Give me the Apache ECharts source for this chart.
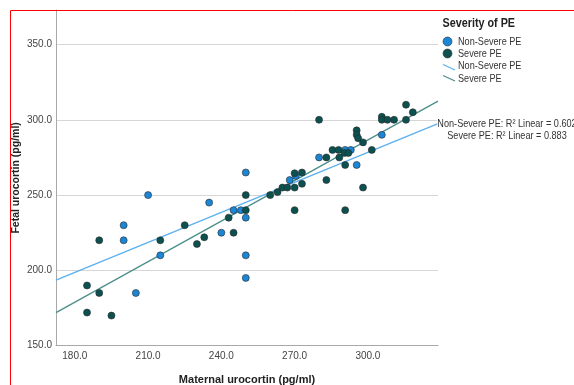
<!DOCTYPE html>
<html>
<head>
<meta charset="utf-8">
<script src="https://cdn.jsdelivr.net/npm/echarts@6/dist/echarts.min.js"></script>
<style>
html,body{margin:0;padding:0;background:#fff;}
#c{width:574px;height:385px;}
</style>
</head>
<body>
<div id="c"></div>
<script>
// ---- data ----
const categories = ['Non-Severe PE', 'Severe PE'];
const xTicks = [180, 210, 240, 270, 300];
const yTicks = [150, 200, 250, 300, 350];

const nonSevere = [
  [210,250],[200,230],[200,220],[215,210],[205,185],[235,245],[240,225],[245,240],
  [248,240],[250,265],[250,235],[250,210],[250,195],[268,260],[270.5,262.7],[280,275],
  [290.7,280],[293,280],[295.4,270],[305.7,290]
];
const severe = [
  [190,220],[215,220],[185,190],[190,185],[185,172],[195,170],
  [225,230],[230,217.5],[233,222],[245,225],[243,235],[250,240],[250,250],
  [260,250],[263,252],[265,255],[267,255],
  [270,264.5],[273,265],[273,257.5],[270,255],[270,240],
  [280,300],[290.7,240],[283,260],[283,275],[285.5,280],[288,280],[290.4,278],[292,278],
  [288.3,275],[290.7,270],[298,255],[295.4,293],[295.4,290],[296,287.7],[298,285],[301.6,280],
  [305.7,302],[305.7,300],[308,300],[310.7,300],[315.6,300],[315.6,310],[318.4,305]
];
// fitted lines (end points)
const nonSevereFit = [[172.3,193.6],[328.7,297.5]];
const severeFit = [[172.3,172.0],[328.7,312.4]];
const r2Labels = ['Non-Severe PE: R\u00b2 Linear = 0.602', 'Severe PE: R\u00b2 Linear = 0.883'];

const FONT = '"Liberation Sans", Arial, sans-serif';
const BLUE = '#1b86d6', DARK = '#0c5050', LBLUE = '#5cb0ef', GREEN = '#4b8f8a';
const SX = 0.83; // horizontal squeeze to mimic the narrow original font

const chart = echarts.init(document.getElementById('c'), null, {renderer:'canvas'});
chart.setOption({
  animation: false,
  backgroundColor: '#fff',
  textStyle: {fontFamily: FONT},
  grid: {left: 56, top: 10, right: 136, bottom: 39.3, outerBoundsMode: 'none', containLabel: false},
  xAxis: {
    type: 'value', min: 172.3, max: 328.7,
    name: 'Maternal urocortin (pg/ml)', nameLocation: 'middle', nameGap: 29,
    nameTextStyle: {fontFamily: FONT, fontSize: 11, fontWeight: 'bold', color: '#222'},
    axisLine: {show: true, lineStyle: {color: '#a8a8a8', width: 1}},
    axisTick: {show: false},
    splitLine: {show: false},
    axisLabel: {customValues: xTicks, formatter: v => v.toFixed(1), color: '#444', fontSize: 10, fontFamily: FONT, margin: 6}
  },
  yAxis: {
    type: 'value', min: yTicks[0], max: 372.9, interval: 50,
    name: 'Fetal urocortin (pg/ml)', nameLocation: 'middle', nameGap: 34, nameRotate: 90,
    nameMoveOverlap: false,
    nameTextStyle: {fontFamily: FONT, fontSize: 10.5, fontWeight: 'bold', color: '#222'},
    axisLine: {show: true, lineStyle: {color: '#a8a8a8', width: 1}},
    axisTick: {show: false},
    splitLine: {show: true, showMinLine: false, showMaxLine: false, lineStyle: {color: '#d6d6d6', width: 1}},
    axisLabel: {showMaxLabel: false, formatter: v => v.toFixed(1), color: '#444', fontSize: 10, fontFamily: FONT, margin: 4}
  },
  series: [
    {name: categories[0] + ' fit', type: 'line', data: nonSevereFit, symbol: 'none', z: 1,
     lineStyle: {color: LBLUE, width: 1.3}},
    {name: categories[1] + ' fit', type: 'line', data: severeFit, symbol: 'none', z: 1,
     lineStyle: {color: GREEN, width: 1.3}},
    {name: categories[0], type: 'scatter', data: nonSevere, symbolSize: 7, z: 3,
     itemStyle: {color: BLUE, borderColor: '#2a2a2a', borderWidth: 0.6, opacity: 1}},
    {name: categories[1], type: 'scatter', data: severe, symbolSize: 7, z: 3,
     itemStyle: {color: DARK, borderColor: '#2a2a2a', borderWidth: 0.6, opacity: 1}}
  ],
  graphic: [
    // frame
    {type: 'line', shape: {x1: 10.5, y1: 10.5, x2: 574, y2: 10.5}, style: {stroke: '#ff0000', lineWidth: 1}, z: 100},
    {type: 'line', shape: {x1: 10.5, y1: 10.5, x2: 10.5, y2: 385}, style: {stroke: '#ff0000', lineWidth: 1}, z: 100},
    // legend
    {type: 'text', x: 442.5, y: 23.5, scaleX: SX, style: {text: 'Severity of PE', font: 'bold 13px ' + FONT, fill: '#222', verticalAlign: 'middle'}},
    {type: 'circle', shape: {cx: 447.5, cy: 41.5, r: 4.5}, style: {fill: BLUE, stroke: '#333', lineWidth: 0.6}},
    {type: 'circle', shape: {cx: 447.5, cy: 53.5, r: 4.5}, style: {fill: DARK, stroke: '#333', lineWidth: 0.6}},
    {type: 'line', shape: {x1: 443, y1: 64.5, x2: 455, y2: 70}, style: {stroke: LBLUE, lineWidth: 1.3}},
    {type: 'line', shape: {x1: 443, y1: 75.5, x2: 455, y2: 81}, style: {stroke: GREEN, lineWidth: 1.3}},
    {type: 'text', x: 458, y: 42, scaleX: SX, style: {text: categories[0], font: '11px ' + FONT, fill: '#333', verticalAlign: 'middle'}},
    {type: 'text', x: 458, y: 54, scaleX: SX, style: {text: categories[1], font: '11px ' + FONT, fill: '#333', verticalAlign: 'middle'}},
    {type: 'text', x: 458, y: 66, scaleX: SX, style: {text: categories[0], font: '11px ' + FONT, fill: '#333', verticalAlign: 'middle'}},
    {type: 'text', x: 458, y: 79, scaleX: SX, style: {text: categories[1], font: '11px ' + FONT, fill: '#333', verticalAlign: 'middle'}},
    // R2 labels
    {type: 'text', x: 507, y: 123.5, z: 50, scaleX: SX, style: {text: r2Labels[0], font: '11px ' + FONT, fill: '#333', align: 'center', verticalAlign: 'middle', backgroundColor: '#fff'}},
    {type: 'text', x: 507, y: 135.5, z: 50, scaleX: SX, style: {text: r2Labels[1], font: '11px ' + FONT, fill: '#333', align: 'center', verticalAlign: 'middle', backgroundColor: '#fff'}}
  ]
});
</script>
</body>
</html>
